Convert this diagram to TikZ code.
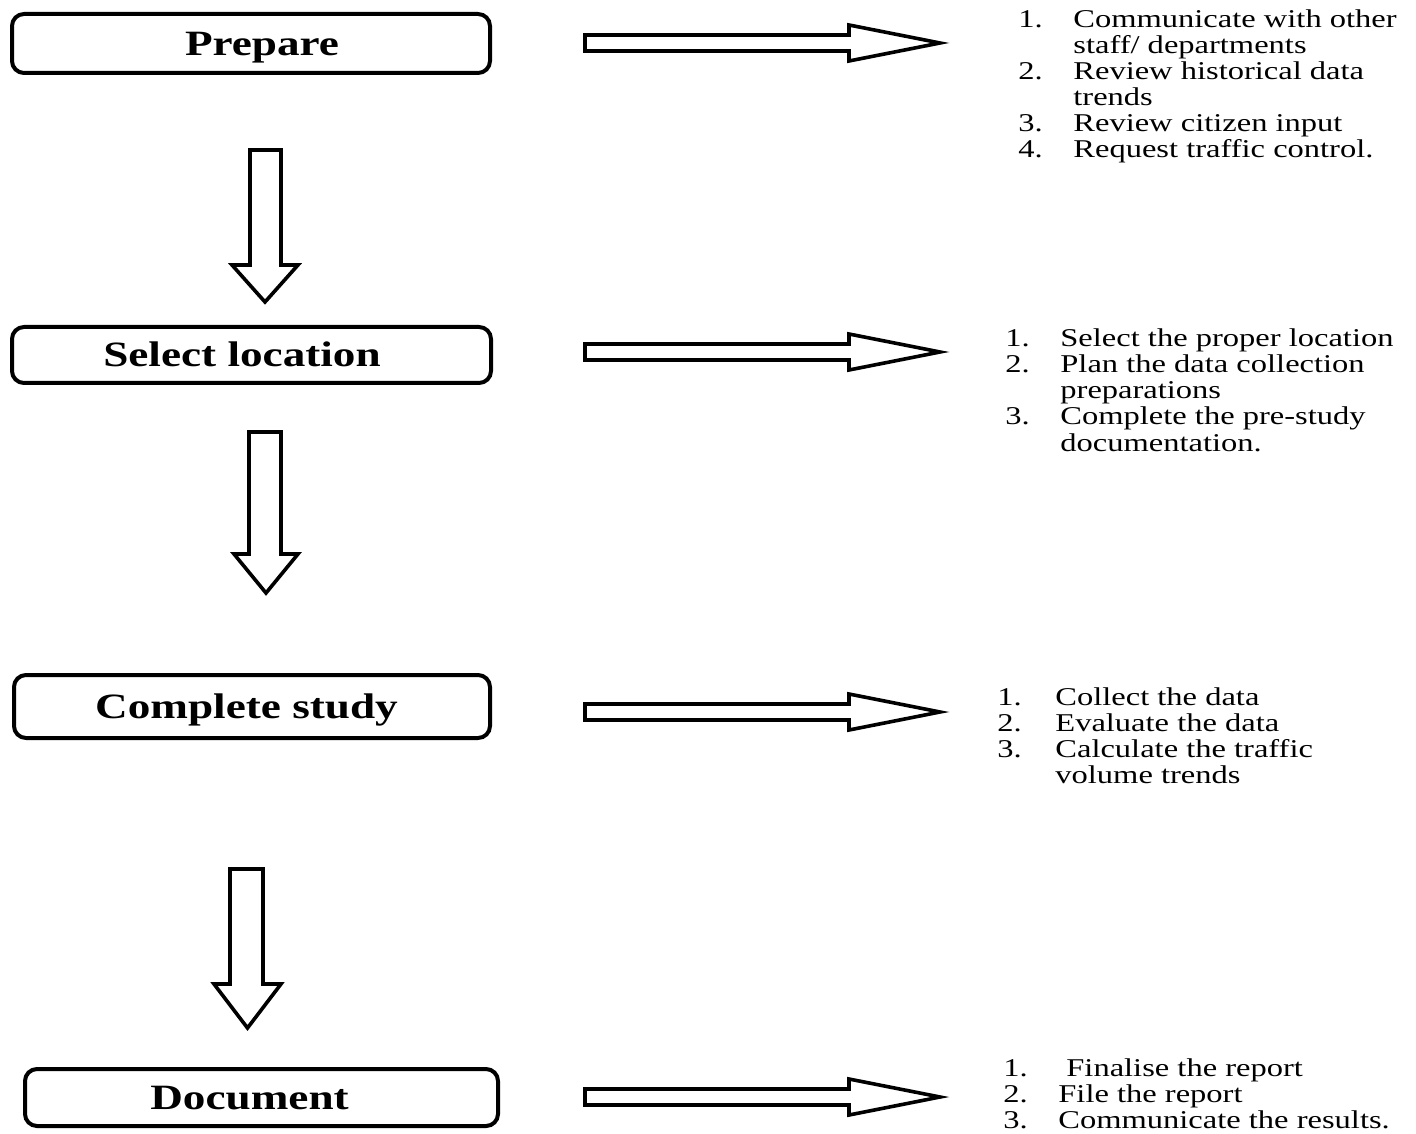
\documentclass[tikz,border=0pt]{standalone}
\usepackage{fontspec}
\setmainfont{Liberation Serif}
\newfontfamily\listfont{Liberation Serif}[FakeStretch=1.27]
\newfontfamily\boxfont{Liberation Serif}[FakeStretch=1.27]
\newcommand\rarr[2]{\draw[blockarrow] (585,{#2-8}) -- (849,{#2-8}) -- (849,{#2-18}) -- (940,#2) -- (849,{#2+18}) -- (849,{#2+8}) -- (585,{#2+8}) -- cycle;
  \coordinate (#1) at (940,#2);}
% name, shaft left, shaft right, top, head base, head left, head right, tip y
\newcommand\darr[8]{\draw[blockarrow] (#2,#4) -- (#3,#4) -- (#3,#5) -- (#7,#5) -- ({(#6+#7)/2},#8) -- (#6,#5) -- (#2,#5) -- cycle;
  \coordinate (#1) at ({(#6+#7)/2},#8);}
\begin{document}
\begin{tikzpicture}[x=0.5pt,y=-0.5pt,
  stepbox/.style={draw, line width=2pt, rounded corners=6pt, inner sep=0pt,
    text height=12pt, text depth=0pt,
    font=\boxfont\bfseries\fontsize{17.8}{20}\selectfont},
  blockarrow/.style={draw, line width=1.8pt, fill=white, line join=miter},
  steplist/.style={anchor=base west, inner sep=0pt,
    font=\listfont\fontsize{12.8}{13}\selectfont}]
\useasboundingbox (0,0) rectangle (1416,1133);

% step boxes
\node[stepbox, minimum width=239pt, minimum height=29.5pt] (prepare) at (251,43.5) {\hspace*{11pt}Prepare};
\node[stepbox, minimum width=239.5pt, minimum height=28pt] (select) at (251.5,355) {Select location\hspace*{9.5pt}};
\node[stepbox, minimum width=238pt, minimum height=31.5pt] (complete) at (252,706.5) {Complete study\hspace*{5.5pt}};
\node[stepbox, minimum width=236.5pt, minimum height=28.5pt] (document) at (261.5,1097.5) {Document\hspace*{12pt}};

% down arrows
\darr{d1}{250}{281}{150}{265}{232}{298}{302}
\darr{d2}{249}{281}{432}{554}{234}{298}{593}
\darr{d3}{230}{263}{869}{984}{214}{281}{1028}

% right arrows
\rarr{r1}{43}
\rarr{r2}{352}
\rarr{r3}{712}
\rarr{r4}{1097}

% lists
\renewcommand\arraystretch{1}
\node[steplist] (list1) at (1018,28) {\begin{tabular}[t]{@{}p{27.5pt}@{}l@{}}
1. & Communicate with other\\
   & staff/ departments\\
2. & Review historical data\\
   & trends\\
3. & Review citizen input\\
4. & Request traffic control.
\end{tabular}};
\node[steplist] (list2) at (1005,347) {\begin{tabular}[t]{@{}p{27.5pt}@{}l@{}}
1. & Select the proper location\\
2. & Plan the data collection\\
   & preparations\\
3. & Complete the pre-study\\
   & documentation.
\end{tabular}};
\node[steplist] (list3) at (997,705) {\begin{tabular}[t]{@{}p{29pt}@{}l@{}}
1. & Collect the data\\
2. & Evaluate the data\\
3. & Calculate the traffic\\
   & volume trends
\end{tabular}};
\node[steplist] (list4) at (1003,1076) {\begin{tabular}[t]{@{}p{27.5pt}@{}l@{}}
1. & \hspace*{4pt}Finalise the report\\
2. & File the report\\
3. & Communicate the results.
\end{tabular}};
\end{tikzpicture}
\end{document}
